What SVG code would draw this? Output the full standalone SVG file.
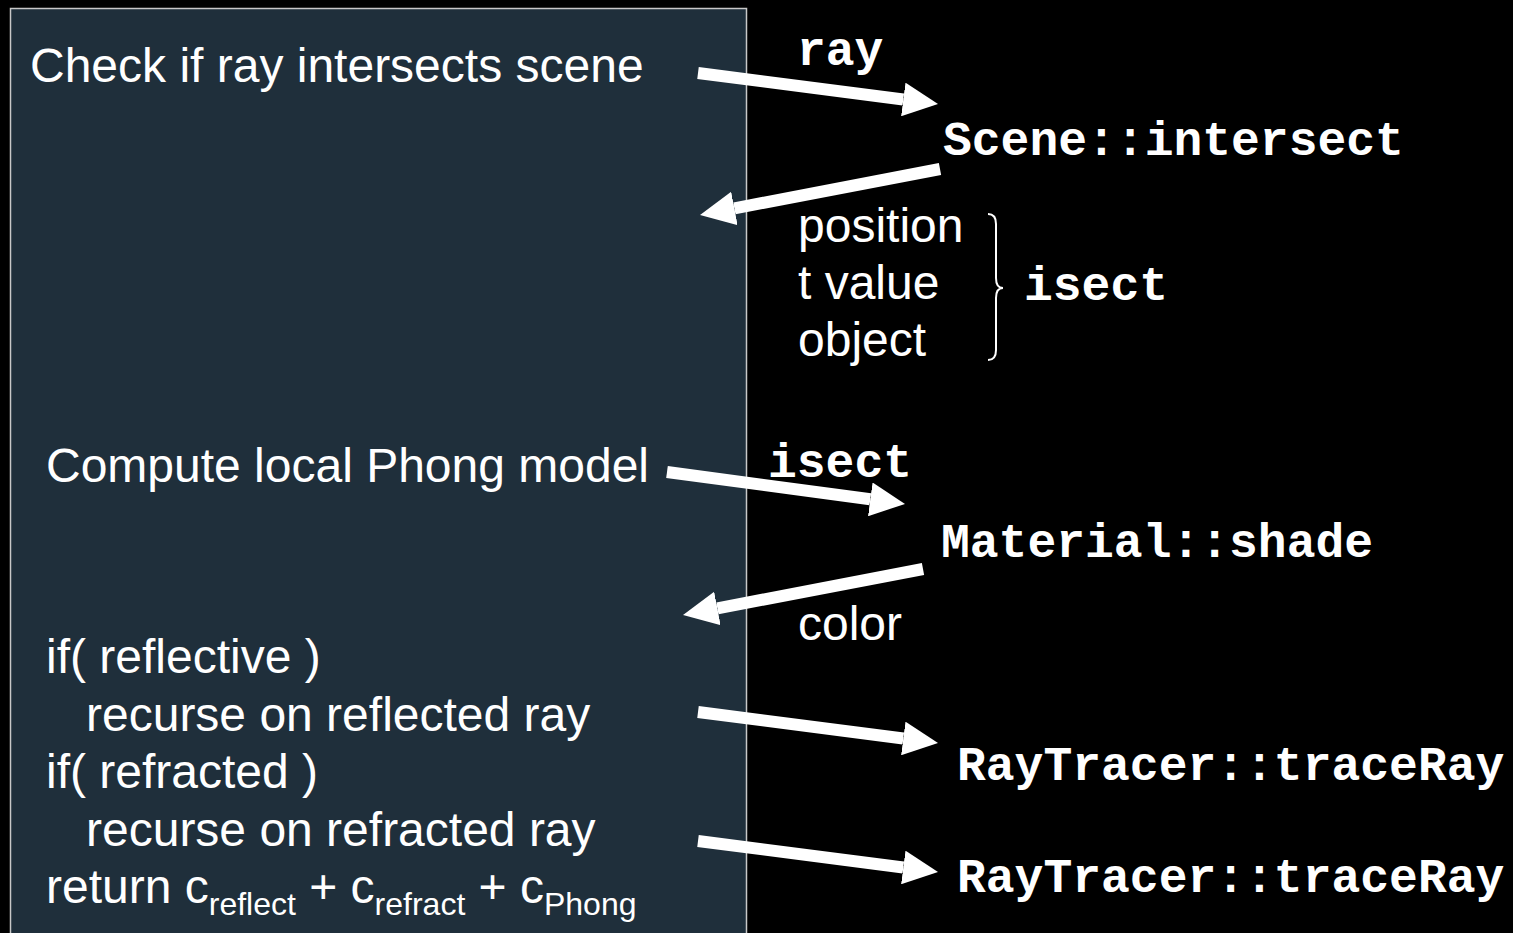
<svg xmlns="http://www.w3.org/2000/svg" width="1513" height="933" viewBox="0 0 1513 933">
  <style>
    .sans { font-family: "Liberation Sans", Arial, sans-serif; font-size: 48px; fill: #ffffff; }
    .sub { font-size: 32px; }
    .mono { font-family: "Liberation Mono", "Courier New", monospace; font-size: 48px; font-weight: bold; fill: #ffffff; }
    .arrow { stroke: #ffffff; stroke-width: 12; fill: none; marker-end: url(#head); }
    .brace { stroke: #ffffff; stroke-width: 2; fill: none; }
  </style>
  <defs>
    <marker id="head" viewBox="0 0 35 34" refX="0" refY="17" markerWidth="35" markerHeight="34" markerUnits="userSpaceOnUse" orient="auto">
      <path d="M0,0 L35,17 L0,34 z" fill="#ffffff"/>
    </marker>
  </defs>
  <rect x="0" y="0" width="1513" height="933" fill="#000000"/>

  <g id="panel">
    <rect x="10.5" y="8.5" width="736" height="940" fill="#1f2f3b" stroke="#c8c8c8" stroke-width="1.5"/>
    <text class="sans" x="30" y="82">Check if ray intersects scene</text>
    <text class="sans" x="46" y="482">Compute local Phong model</text>
    <text class="sans" x="46" y="673">if( reflective )</text>
    <text class="sans" x="86" y="730.5">recurse on reflected ray</text>
    <text class="sans" x="46" y="788">if( refracted )</text>
    <text class="sans" x="86" y="845.5">recurse on refracted ray</text>
    <text class="sans" x="46" y="903">return c<tspan class="sub" dy="12">reflect</tspan><tspan dy="-12"> + c</tspan><tspan class="sub" dy="12">refract</tspan><tspan dy="-12"> + c</tspan><tspan class="sub" dy="12">Phong</tspan></text>
  </g>

  <g id="scene-intersect">
    <text class="mono" x="943" y="155">Scene::intersect</text>
  </g>

  <g id="isect-fields">
    <text class="sans" x="798" y="242">position</text>
    <text class="sans" x="798" y="299">t value</text>
    <text class="sans" x="798" y="356">object</text>
    <path class="brace" d="M988,214 Q996,214 996,224 L996,278 Q996,288 1003,288 Q996,288 996,298 L996,350 Q996,360 988,360"/>
    <text class="mono" x="1024" y="300">isect</text>
  </g>

  <g id="material-shade">
    <text class="mono" x="941" y="557">Material::shade</text>
  </g>

  <g id="color-label">
    <text class="sans" x="798" y="640">color</text>
  </g>

  <g id="tracer-reflect">
    <text class="mono" x="957" y="780">RayTracer::traceRay</text>
  </g>

  <g id="tracer-refract">
    <text class="mono" x="957" y="892">RayTracer::traceRay</text>
  </g>

  <g id="connectors">
    <line class="arrow" x1="698" y1="73" x2="903.3" y2="99.5"/>
    <text class="mono" x="797" y="65">ray</text>
    <line class="arrow" x1="940" y1="169" x2="734.4" y2="208.4"/>
    <line class="arrow" x1="667" y1="472" x2="870.3" y2="499.3"/>
    <text class="mono" x="768" y="477">isect</text>
    <line class="arrow" x1="923" y1="569" x2="717.4" y2="608.4"/>
    <line class="arrow" x1="698" y1="712" x2="903.3" y2="738.5"/>
    <line class="arrow" x1="698" y1="841" x2="903.3" y2="867.5"/>
  </g>
</svg>
